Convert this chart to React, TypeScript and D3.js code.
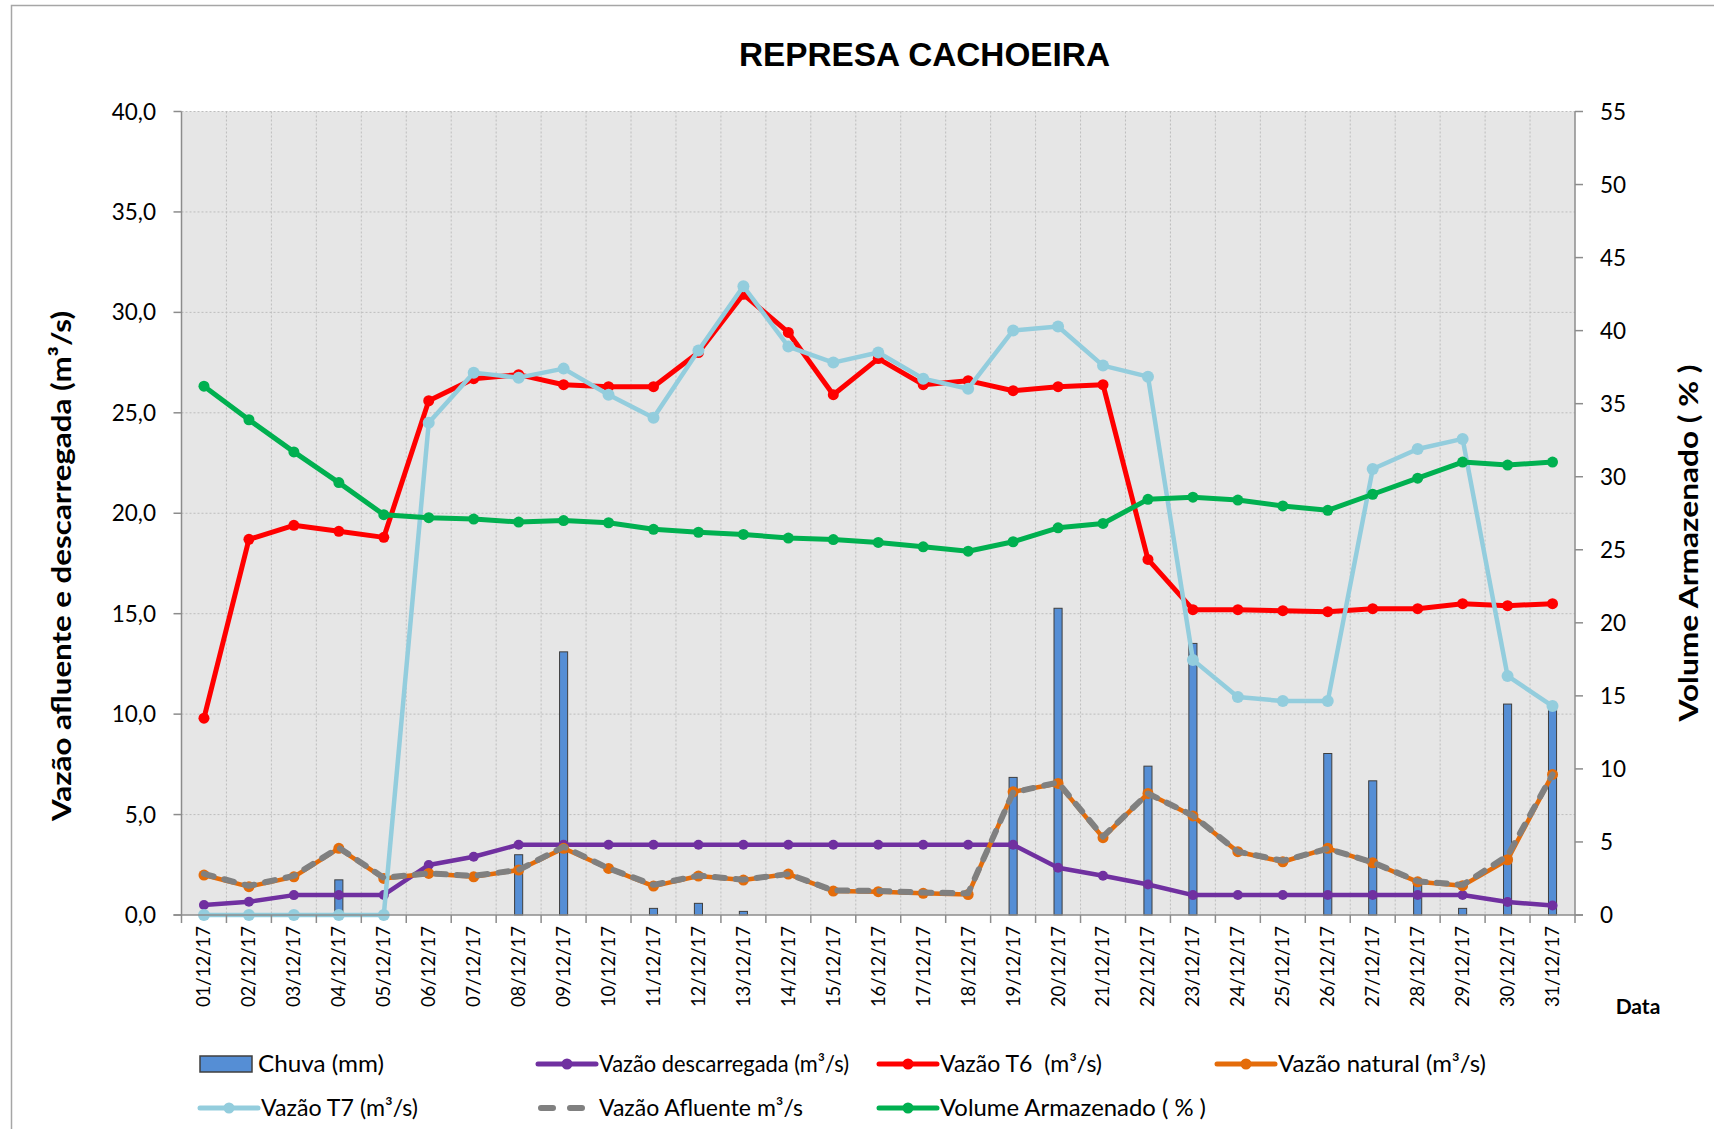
import * as d3 from "d3";

/* ------------------------------------------------------------------ */
/*  Data                                                               */
/* ------------------------------------------------------------------ */

const DAYS = [
  "01/12/17", "02/12/17", "03/12/17", "04/12/17", "05/12/17", "06/12/17",
  "07/12/17", "08/12/17", "09/12/17", "10/12/17", "11/12/17", "12/12/17",
  "13/12/17", "14/12/17", "15/12/17", "16/12/17", "17/12/17", "18/12/17",
  "19/12/17", "20/12/17", "21/12/17", "22/12/17", "23/12/17", "24/12/17",
  "25/12/17", "26/12/17", "27/12/17", "28/12/17", "29/12/17", "30/12/17",
  "31/12/17",
];

const CHUVA = [
  0, 0, 0, 1.75, 0, 0, 0, 3.0, 13.1, 0, 0.33, 0.58, 0.18, 0, 0, 0, 0, 0,
  6.85, 15.27, 0, 7.41, 13.52, 0, 0, 8.04, 6.68, 1.6, 0.33, 10.5, 10.3,
];

const DESCARREGADA = [
  0.5, 0.66, 0.99, 1.0, 1.0, 2.49, 2.9, 3.5, 3.5, 3.5, 3.5, 3.5, 3.5, 3.5,
  3.5, 3.5, 3.5, 3.5, 3.5, 2.35, 1.95, 1.52, 0.99, 1.0, 1.0, 1.0, 1.0, 1.0,
  1.0, 0.65, 0.47,
];

const T6 = [
  9.8, 18.7, 19.4, 19.1, 18.8, 25.6, 26.7, 26.9, 26.4, 26.3, 26.3, 28.0,
  30.9, 29.0, 25.9, 27.7, 26.4, 26.6, 26.1, 26.3, 26.4, 17.7, 15.2, 15.2,
  15.15, 15.1, 15.25, 15.25, 15.5, 15.4, 15.5,
];

const NATURAL = [
  1.99, 1.41, 1.9, 3.32, 1.82, 2.07, 1.9, 2.24, 3.32, 2.32, 1.44, 1.94, 1.74,
  2.04, 1.19, 1.16, 1.08, 1.02, 6.13, 6.55, 3.85, 6.05, 4.93, 3.15, 2.65,
  3.32, 2.6, 1.65, 1.46, 2.75, 7.0,
];

const T7 = [
  0, 0, 0, 0, 0, 24.5, 27.0, 26.75, 27.2, 25.9, 24.75, 28.1, 31.3, 28.3, 27.5,
  28.0, 26.7, 26.2, 29.1, 29.3, 27.35, 26.8, 12.7, 10.85, 10.65, 10.65, 22.2,
  23.2, 23.7, 11.9, 10.4,
];

const AFLUENTE = [
  2.05, 1.45, 1.95, 3.35, 1.85, 2.07, 1.95, 2.24, 3.4, 2.32, 1.5, 1.96, 1.76,
  2.04, 1.22, 1.2, 1.12, 1.08, 6.1, 6.6, 3.9, 6.05, 4.95, 3.15, 2.7, 3.3,
  2.62, 1.68, 1.5, 2.95, 7.0,
];

const VOLUME = [
  36.2, 33.9, 31.7, 29.6, 27.4, 27.2, 27.1, 26.9, 27.0, 26.85, 26.4, 26.2,
  26.05, 25.8, 25.7, 25.5, 25.2, 24.9, 25.55, 26.5, 26.8, 28.45, 28.6, 28.4,
  28.0, 27.7, 28.8, 29.9, 31.0, 30.8, 31.0,
];

const LEFT_TICKS = [0, 5, 10, 15, 20, 25, 30, 35, 40];
const RIGHT_TICKS = [0, 5, 10, 15, 20, 25, 30, 35, 40, 45, 50, 55];

/* ------------------------------------------------------------------ */
/*  Theme                                                              */
/* ------------------------------------------------------------------ */

const FONT = "Lato, 'Open Sans', sans-serif";
const TITLE_FONT = "'Liberation Sans', Arial, sans-serif";
const PLOT_BG = "#E6E6E6";
const GRID = "#BDBDBD";
const AXIS = "#8C8C8C";

const C_BAR = "#558ED5";
const C_PURPLE = "#7030A0";
const C_RED = "#FF0000";
const C_ORANGE = "#E46C0A";
const C_CYAN = "#93CDDD";
const C_GRAY = "#808080";
const C_GREEN = "#00B050";

const DASH = "10 11";

const W = 1714;
const H = 1129;
const M = { left: 181.5, right: 1575, top: 111.5, bottom: 915 };

/* ------------------------------------------------------------------ */
/*  Component                                                          */
/* ------------------------------------------------------------------ */

export default function App() {
  const x = d3
    .scaleBand<string>()
    .domain(DAYS)
    .range([M.left, M.right])
    .padding(0);
  const yL = d3.scaleLinear().domain([0, 40]).range([M.bottom, M.top]);
  const yR = d3.scaleLinear().domain([0, 55]).range([M.bottom, M.top]);
  const cx = (i: number) => (x(DAYS[i]) ?? 0) + x.bandwidth() / 2;

  const lineL = d3
    .line<number>()
    .x((_, i) => cx(i))
    .y((d) => yL(d));
  const lineR = d3
    .line<number>()
    .x((_, i) => cx(i))
    .y((d) => yR(d));

  const barW = x.bandwidth() * 0.18;

  const series = (
    data: number[],
    color: string,
    width: number,
    r: number,
    gen = lineL,
    dash?: string,
  ) => (
    <g>
      <path
        d={gen(data) ?? ""}
        fill="none"
        stroke={color}
        strokeWidth={width}
        strokeLinejoin="round"
        strokeLinecap="round"
        strokeDasharray={dash}
      />
      {r > 0 &&
        data.map((d, i) => (
          <circle
            key={i}
            cx={cx(i)}
            cy={gen === lineL ? yL(d) : yR(d)}
            r={r}
            fill={color}
          />
        ))}
    </g>
  );

  const legend = [
    { label: "Chuva (mm)", x: 200, y: 1064, kind: "bar", color: C_BAR, len: 126 },
    { label: "Vazão descarregada (m³/s)", x: 538, y: 1064, kind: "line", color: C_PURPLE, len: 250 },
    { label: "Vazão T6  (m³/s)", x: 879, y: 1064, kind: "line", color: C_RED, len: 162 },
    { label: "Vazão natural (m³/s)", x: 1217, y: 1064, kind: "line", color: C_ORANGE, len: 208 },
    { label: "Vazão T7 (m³/s)", x: 200, y: 1108, kind: "line", color: C_CYAN, len: 157 },
    { label: "Vazão Afluente m³/s", x: 538, y: 1108, kind: "dash", color: C_GRAY, len: 204 },
    { label: "Volume Armazenado ( % )", x: 879, y: 1108, kind: "line", color: C_GREEN, len: 266 },
  ];

  return (
    <div style={{ position: "absolute", left: 0, top: 0 }}>
      <svg width={W} height={H} style={{ display: "block", background: "#fff" }}>
        {/* Chart border */}
        <rect x={11.5} y={5.5} width={1720} height={1140} fill="#fff" stroke="#A6A6A6" strokeWidth={1.5} />

        {/* Title */}
        <text
          x={924.5}
          y={66}
          textAnchor="middle"
          fontFamily={TITLE_FONT}
          fontWeight="bold"
          fontSize={33}
          textLength={371}
          lengthAdjust="spacingAndGlyphs"
          fill="#000"
        >
          REPRESA CACHOEIRA
        </text>

        {/* Plot area */}
        <rect
          x={M.left}
          y={M.top}
          width={M.right - M.left}
          height={M.bottom - M.top}
          fill={PLOT_BG}
        />

        {/* Grid */}
        {LEFT_TICKS.filter((t) => t > 0).map((t) => (
          <line
            key={`h${t}`}
            x1={M.left}
            x2={M.right}
            y1={yL(t)}
            y2={yL(t)}
            stroke={GRID}
            strokeWidth={1}
            strokeDasharray="2 2"
          />
        ))}
        {DAYS.slice(1).map((d) => (
          <line
            key={`v${d}`}
            x1={x(d)}
            x2={x(d)}
            y1={M.top}
            y2={M.bottom}
            stroke={GRID}
            strokeWidth={1}
            strokeDasharray="2 2"
          />
        ))}

        {/* Chuva bars */}
        {CHUVA.map((v, i) =>
          v > 0 ? (
            <rect
              key={`b${i}`}
              x={cx(i) - barW / 2}
              y={yL(v)}
              width={barW}
              height={yL(0) - yL(v)}
              fill={C_BAR}
              stroke="#3F3F3F"
              strokeWidth={1}
            />
          ) : null,
        )}

        {/* Lines */}
        {series(DESCARREGADA, C_PURPLE, 4.5, 5)}
        {series(T6, C_RED, 5, 5.5)}
        {series(NATURAL, C_ORANGE, 4.5, 5.5)}
        {series(T7, C_CYAN, 4.5, 6)}
        {series(AFLUENTE, C_GRAY, 6, 0, lineL, DASH)}
        {series(VOLUME, C_GREEN, 5, 5.5, lineR)}

        {/* Left axis */}
        <line x1={M.left} x2={M.left} y1={M.top} y2={M.bottom} stroke={AXIS} strokeWidth={1.5} />
        {LEFT_TICKS.map((t) => (
          <g key={`lt${t}`}>
            <line x1={M.left - 8} x2={M.left} y1={yL(t)} y2={yL(t)} stroke={AXIS} strokeWidth={1.5} />
            <text
              x={156}
              y={yL(t)}
              dy="0.36em"
              textAnchor="end"
              fontFamily={FONT}
              fontSize={22.5}
              fill="#000"
            >
              {t.toFixed(1).replace(".", ",")}
            </text>
          </g>
        ))}

        {/* Right axis */}
        <line x1={M.right} x2={M.right} y1={M.top} y2={M.bottom} stroke={AXIS} strokeWidth={1.5} />
        {RIGHT_TICKS.map((t) => (
          <g key={`rt${t}`}>
            <line x1={M.right} x2={M.right + 8} y1={yR(t)} y2={yR(t)} stroke={AXIS} strokeWidth={1.5} />
            <text
              x={1600}
              y={yR(t)}
              dy="0.36em"
              fontFamily={FONT}
              fontSize={22.5}
              fill="#000"
            >
              {t}
            </text>
          </g>
        ))}

        {/* Bottom axis */}
        <line x1={M.left - 8} x2={M.right + 8} y1={M.bottom} y2={M.bottom} stroke={AXIS} strokeWidth={1.5} />
        {DAYS.map((d) => (
          <line
            key={`bt${d}`}
            x1={x(d)}
            x2={x(d)}
            y1={M.bottom}
            y2={M.bottom + 8}
            stroke={AXIS}
            strokeWidth={1.5}
          />
        ))}
        <line x1={M.right} x2={M.right} y1={M.bottom} y2={M.bottom + 8} stroke={AXIS} strokeWidth={1.5} />
        {DAYS.map((d, i) => (
          <text
            key={`xl${d}`}
            transform={`translate(${cx(i)},${M.bottom + 11}) rotate(-90)`}
            dy="0.35em"
            textAnchor="end"
            fontFamily={FONT}
            fontSize={18.5}
            fill="#000"
          >
            {d}
          </text>
        ))}

        {/* Axis titles */}
        <text
          transform={`translate(62,566) rotate(-90)`}
          dy="0.35em"
          textAnchor="middle"
          fontFamily={FONT}
          fontWeight="bold"
          fontSize={27}
          textLength={510}
          lengthAdjust="spacingAndGlyphs"
          fill="#000"
        >
          Vazão afluente e descarregada (m³/s)
        </text>
        <text
          transform={`translate(1689,543) rotate(-90)`}
          dy="0.35em"
          textAnchor="middle"
          fontFamily={FONT}
          fontWeight="bold"
          fontSize={27}
          textLength={357}
          lengthAdjust="spacingAndGlyphs"
          fill="#000"
          style={{ whiteSpace: "pre" }}
        >
          Volume Armazenado ( % )
        </text>
        <text
          x={1638}
          y={1007}
          dy="0.35em"
          textAnchor="middle"
          fontFamily={FONT}
          fontWeight="bold"
          fontSize={21}
          fill="#000"
        >
          Data
        </text>

        {/* Legend */}
        {legend.map((l) => (
          <g key={l.label}>
            {l.kind === "bar" ? (
              <rect x={l.x} y={l.y - 8} width={52} height={16} fill={C_BAR} stroke="#3F3F3F" strokeWidth={1.5} />
            ) : l.kind === "dash" ? (
              <line
                x1={l.x + 3}
                x2={l.x + 58}
                y1={l.y}
                y2={l.y}
                stroke={l.color}
                strokeWidth={6}
                strokeLinecap="round"
                strokeDasharray="12 17"
              />
            ) : (
              <g>
                <line x1={l.x} x2={l.x + 58} y1={l.y} y2={l.y} stroke={l.color} strokeWidth={5} strokeLinecap="round" />
                <circle cx={l.x + 29} cy={l.y} r={5.5} fill={l.color} />
              </g>
            )}
            <text
              x={l.kind === "bar" ? l.x + 58 : l.x + 61}
              y={l.y}
              dy="0.35em"
              fontFamily={FONT}
              fontSize={23}
              textLength={l.len}
              lengthAdjust="spacingAndGlyphs"
              fill="#000"
              style={{ whiteSpace: "pre" }}
            >
              {l.label}
            </text>
          </g>
        ))}
      </svg>
    </div>
  );
}
